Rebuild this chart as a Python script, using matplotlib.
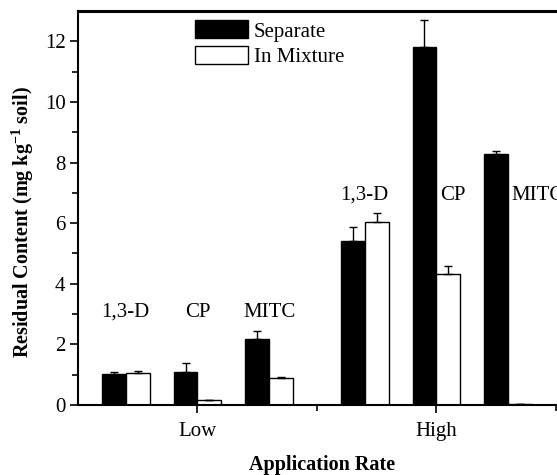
import matplotlib
matplotlib.use("Agg")
import matplotlib.pyplot as plt
import numpy as np

plt.rcParams['font.family'] = ['Liberation Serif', 'DejaVu Serif']
plt.rcParams['mathtext.fontset'] = 'custom'
plt.rcParams['mathtext.rm'] = 'Liberation Serif'
plt.rcParams['mathtext.bf'] = 'Liberation Serif:bold'

rates = ["Low", "High"]
compounds = ["1,3-D", "CP", "MITC"]
separate_low = [1.02, 1.08, 2.17]
separate_low_err = [0.07, 0.32, 0.28]
mixture_low = [1.05, 0.15, 0.90]
mixture_low_err = [0.07, 0.03, 0.03]
separate_high = [5.42, 11.81, 8.29]
separate_high_err = [0.45, 0.90, 0.10]
mixture_high = [6.05, 4.33, 0.03]
mixture_high_err = [0.30, 0.24, 0.0]

FS = 15

fig = plt.figure(figsize=(5.57, 4.75), dpi=100)
ax = fig.add_axes([0.140, 0.1474, 0.858, 0.8294])

w = 0.1
offsets = np.array([-0.3, 0.0, 0.3])
ekw = dict(ecolor='black', elinewidth=1.0, capsize=3, capthick=1.0)
for gi, (sep, sep_e, mix, mix_e) in enumerate([
        (separate_low, separate_low_err, mixture_low, mixture_low_err),
        (separate_high, separate_high_err, mixture_high, mixture_high_err)]):
    centers = gi + 1 + offsets
    ax.bar(centers - w / 2, sep, width=w, color='black', edgecolor='black',
           linewidth=1.0, label='Separate' if gi == 0 else None,
           yerr=[np.zeros(3), sep_e], error_kw=ekw)
    ax.bar(centers + w / 2, mix, width=w, color='white', edgecolor='black',
           linewidth=1.0, label='In Mixture' if gi == 0 else None,
           yerr=[np.zeros(3), mix_e], error_kw=ekw)

# compound labels
for c, x in zip(compounds, 1 + offsets):
    ax.text(x, 2.75, c, ha='center', va='bottom', fontsize=FS)
ax.text(2 + offsets[0], 6.6, compounds[0], ha='center', va='bottom', fontsize=FS)
ax.text(2 + offsets[1] + 0.015, 6.6, compounds[1], ha='left', va='bottom', fontsize=FS)
ax.text(2 + offsets[2] + 0.015, 6.6, compounds[2], ha='left', va='bottom', fontsize=FS)

ax.set_xlim(0.5, 2.5)
ax.set_ylim(0, 13)
ax.set_xticks([1, 2])
ax.set_xticklabels(rates, fontsize=FS)
ax.set_xticks([1.5, 2.5], minor=True)
ax.set_yticks([0, 2, 4, 6, 8, 10, 12])
ax.set_yticks([1, 3, 5, 7, 9, 11], minor=True)
ax.tick_params(axis='both', which='major', direction='out', length=6, width=1.2, labelsize=FS)
ax.tick_params(axis='both', which='minor', direction='out', length=4, width=1.2)
ax.tick_params(axis='x', which='major', pad=6)
ax.tick_params(axis='y', which='major', pad=3)

ax.spines['right'].set_visible(False)
ax.spines['top'].set_linewidth(2.2)
ax.spines['left'].set_linewidth(1.5)
ax.spines['bottom'].set_linewidth(1.5)

ax.set_ylabel(r'Residual Content (mg kg$^{\mathbf{-1}}$ soil)', fontsize=14.5, fontweight='bold',
              va='center', ha='center')
ax.yaxis.set_label_coords(-0.117, 0.464)
ax.set_xlabel('Application Rate', fontsize=14.5, fontweight='bold', va='center')
ax.xaxis.set_label_coords(0.51, -0.152)

leg = ax.legend(loc='upper left', bbox_to_anchor=(0.226, 1.0), frameon=False, fontsize=FS,
                handlelength=2.55, handleheight=0.95, handletextpad=0.25, labelspacing=0.2,
                borderaxespad=0.05)

fig.savefig('out.png', dpi=100)
